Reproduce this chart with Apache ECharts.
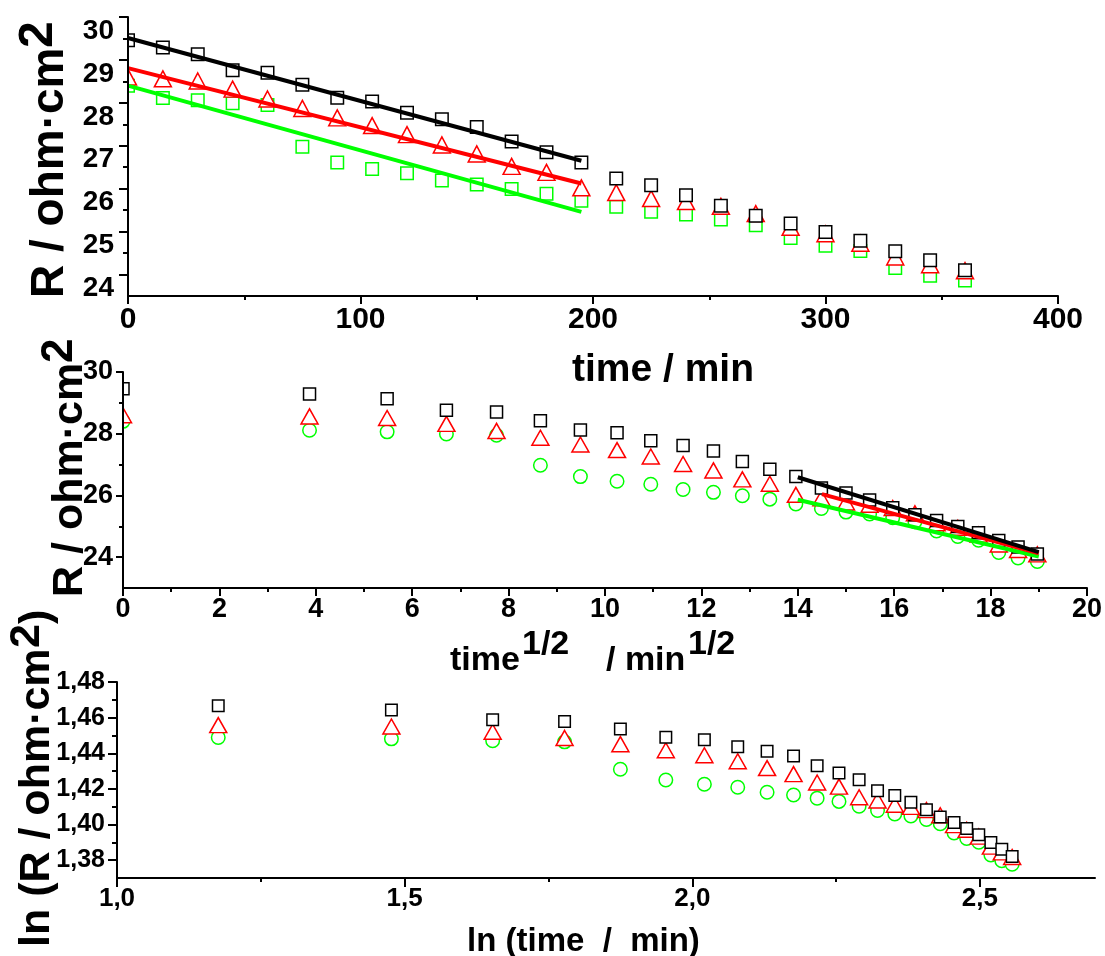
<!DOCTYPE html>
<html><head><meta charset="utf-8">
<script src="https://cdn.jsdelivr.net/npm/echarts@6/dist/echarts.min.js"></script>
<style>html,body{margin:0;padding:0;background:#fff}#c{width:1105px;height:956px}</style>
</head><body><div id="c"></div>
<script>
// ---- data ----
const time = [0,15,30,45,60,75,90,105,120,135,150,165,180,195,210,225,240,255,270,285,300,315,330,345,360];
const sqrtTime = [0,3.87,5.48,6.71,7.75,8.66,9.49,10.25,10.95,11.62,12.25,12.85,13.42,13.96,14.49,15.00,15.49,15.97,16.43,16.88,17.32,17.75,18.17,18.57,18.97];
const logTime = [1.176,1.477,1.653,1.778,1.875,1.954,2.021,2.079,2.130,2.176,2.217,2.255,2.290,2.322,2.352,2.380,2.407,2.431,2.455,2.477,2.498,2.519,2.538,2.556];

const blackR = [29.46,29.29,29.13,28.76,28.70,28.42,28.12,28.03,27.77,27.62,27.44,27.10,26.85,26.61,26.24,26.08,25.85,25.60,25.37,25.19,24.99,24.79,24.54,24.33,24.10];
const redR   = [28.60,28.56,28.51,28.32,28.09,27.87,27.65,27.47,27.26,27.02,26.81,26.52,26.38,26.02,25.91,25.77,25.70,25.59,25.42,25.10,24.95,24.73,24.41,24.23,24.09];
const greenR = [28.40,28.11,28.06,27.99,27.95,26.98,26.61,26.46,26.36,26.19,26.10,25.99,25.88,25.72,25.58,25.46,25.40,25.28,25.15,24.85,24.67,24.55,24.15,23.97,23.86];

const blackLog = [1.4667,1.4643,1.4588,1.4579,1.4536,1.4490,1.4476,1.4436,1.4412,1.4384,1.4330,1.4289,1.4251,1.4190,1.4163,1.4125,1.4083,1.4043,1.4012,1.3978,1.3943,1.3899,1.3861,1.3820];
const redLog   = [1.4558,1.4550,1.4521,1.4486,1.4451,1.4417,1.4389,1.4355,1.4317,1.4283,1.4236,1.4213,1.4153,1.4135,1.4111,1.4099,1.4081,1.4052,1.3997,1.3971,1.3932,1.3876,1.3844,1.3818];
const greenLog = [1.4489,1.4481,1.4470,1.4464,1.4310,1.4250,1.4226,1.4209,1.4181,1.4166,1.4148,1.4130,1.4103,1.4079,1.4059,1.4048,1.4028,1.4005,1.3953,1.3922,1.3901,1.3829,1.3797,1.3777];

// linear fits drawn in the picture (end points)
const fitTopBlack = [[0,29.51],[195,26.65]];
const fitTopRed   = [[0,28.81],[195,26.12]];
const fitTopGreen = [[0,28.40],[195,25.46]];
const fitMidBlack = [[14,26.59],[19,24.16]];
const fitMidRed   = [[14.5,26.04],[19,24.12]];
const fitMidGreen = [[14,25.86],[19,24.02]];

// tick values
const topYMajor = [24,25,26,27,28,29,30];
const topYMinor = [24.5,25.5,26.5,27.5,28.5,29.5];
const midYMajor = [24,26,28,30];
const midYMinor = [25,27,29];
const botXMajor = [1.0,1.5,2.0,2.5];
const botXMinor = [1.25,1.75,2.25];
const botYMajor = [1.38,1.40,1.42,1.44,1.46,1.48];
const botYMinor = [1.39,1.41,1.43,1.45,1.47];

// ---- chart ----
const FONT = '"Liberation Sans", Arial, Helvetica, sans-serif';
const BLACK = '#000000', RED = '#ff0000', GREEN = '#00ff00';
const pairs = (xs, ys) => xs.map((x, i) => [x, ys[i]]);
const lineSt = {color:'#000', width:2};
const comma = d => v => v.toFixed(d).replace('.', ',');

function mainAxis(o) {
  return Object.assign({
    type:'value', z:5, splitLine:{show:false}, minorSplitLine:{show:false},
    axisLine:{show:true, onZero:false, lineStyle:lineSt},
  }, o);
}
function minorAxis(o) {
  return Object.assign({
    type:'value', z:5, splitLine:{show:false}, axisLine:{show:false}, axisLabel:{show:false},
  }, o);
}
function lab(size, extra) {
  return Object.assign({fontSize:size, fontWeight:'bold', fontFamily:FONT, color:'#000'}, extra||{});
}

const xAxis = [
  mainAxis({gridIndex:0, position:'bottom', min:0, max:400, interval:100,
    axisTick:{show:true, length:8, lineStyle:lineSt},
    minorTick:{show:true, splitNumber:2, length:4, lineStyle:lineSt},
    axisLabel:lab(30, {margin:9})}),
  mainAxis({gridIndex:1, position:'bottom', min:0, max:20, interval:2,
    axisTick:{show:true, length:8, lineStyle:lineSt},
    minorTick:{show:true, splitNumber:2, length:4, lineStyle:lineSt},
    axisLabel:lab(27, {margin:8})}),
  mainAxis({gridIndex:2, position:'bottom', min:1.0, max:2.7,
    axisTick:{show:true, length:9, lineStyle:lineSt, customValues:botXMajor},
    axisLabel:lab(26, {margin:8, customValues:botXMajor, formatter:comma(1)})}),
  minorAxis({gridIndex:2, position:'bottom', min:1.0, max:2.7,
    axisTick:{show:true, length:4, lineStyle:lineSt, customValues:botXMinor}})
];

const yAxis = [
  mainAxis({gridIndex:0, position:'left', min:23.5, max:30,
    axisTick:{show:true, length:9, lineStyle:lineSt, customValues:topYMajor},
    axisLabel:lab(28, {margin:14, verticalAlign:'top', customValues:topYMajor, formatter:v=>String(Math.round(v))})}),
  minorAxis({gridIndex:0, position:'left', min:23.5, max:30,
    axisTick:{show:true, length:5, lineStyle:lineSt, customValues:topYMinor}}),
  mainAxis({gridIndex:1, position:'left', min:23, max:30,
    axisTick:{show:true, length:7, lineStyle:lineSt, customValues:midYMajor},
    axisLabel:lab(27, {margin:10, customValues:midYMajor, formatter:v=>String(Math.round(v))})}),
  minorAxis({gridIndex:1, position:'left', min:23, max:30,
    axisTick:{show:true, length:4, lineStyle:lineSt, customValues:midYMinor}}),
  mainAxis({gridIndex:2, position:'left', min:1.37, max:1.48,
    axisTick:{show:true, length:9, lineStyle:lineSt, customValues:botYMajor},
    axisLabel:lab(25, {margin:12, customValues:botYMajor, formatter:comma(2)})}),
  minorAxis({gridIndex:2, position:'left', min:1.37, max:1.48,
    axisTick:{show:true, length:5, lineStyle:lineSt, customValues:botYMinor}})
];

function scat(xi, yi, data, symbol, size, color) {
  return {type:'scatter', xAxisIndex:xi, yAxisIndex:yi, data, symbol, symbolSize:size, clip:false,
    itemStyle:{color:'#ffffff', borderColor:color, borderWidth:1.5, opacity:1},
    emphasis:{disabled:true}, animation:false};
}
function fit(xi, yi, data, color) {
  return {type:'line', xAxisIndex:xi, yAxisIndex:yi, data, showSymbol:false, symbol:'none',
    lineStyle:{color, width:4}, z:4, animation:false, clip:false};
}

const series = [
  scat(0,0, pairs(time, greenR), 'rect', 12.5, GREEN),
  scat(0,0, pairs(time, redR), 'triangle', [17,16], RED),
  scat(0,0, pairs(time, blackR), 'rect', 12.5, BLACK),
  fit(0,0, fitTopGreen, GREEN), fit(0,0, fitTopRed, RED), fit(0,0, fitTopBlack, BLACK),

  scat(1,2, pairs(sqrtTime, greenR), 'circle', 13.5, GREEN),
  scat(1,2, pairs(sqrtTime, redR), 'triangle', [17,15], RED),
  scat(1,2, pairs(sqrtTime, blackR), 'rect', 12, BLACK),
  fit(1,2, fitMidGreen, GREEN), fit(1,2, fitMidRed, RED), fit(1,2, fitMidBlack, BLACK),

  scat(2,4, pairs(logTime, greenLog), 'circle', 13.5, GREEN),
  scat(2,4, pairs(logTime, redLog), 'triangle', [17,15], RED),
  scat(2,4, pairs(logTime, blackLog), 'rect', 11.5, BLACK)
];

function txt(x, y, text, size, rot, align) {
  const font = 'bold ' + size + 'px ' + FONT;
  return {type:'text', x, y, rotation:rot||0, z:20,
    style:{text, font, fill:'#000', align:align||'left', verticalAlign:'middle',
           textAlign:align||'left', textVerticalAlign:'middle'}};
}
const R90 = Math.PI/2;
const graphic = [
  {type:'rect', z:3, shape:{x:0, y:0, width:127, height:300}, style:{fill:'#fff'}},
  {type:'rect', z:3, shape:{x:0, y:355, width:122, height:235}, style:{fill:'#fff'}},
  // y titles
  txt(50, 298, 'R / ohm·cm', 46, R90), txt(39, 48, '2', 48, R90),
  txt(70, 597, 'R / ohm·cm', 43, R90), txt(60, 363, '2', 44, R90),
  txt(37, 947, 'ln (R / ohm·cm', 43, R90), txt(27, 648, '2', 43, R90), txt(37, 624, ')', 43, R90),
  // x titles
  txt(572, 370, 'time / min', 39),
  txt(450, 661, 'time', 34), txt(522, 645, '1/2', 34),
  txt(606, 661, '/ min', 34), txt(688, 645, '1/2', 34),
  txt(467, 942, 'ln (time  /  min)', 33)
];

const chart = echarts.init(document.getElementById('c'), null, {renderer:'canvas'});
chart.setOption({
  animation:false,
  backgroundColor:'#ffffff',
  grid:[
    {left:128, top:17, width:930, height:279, containLabel:false},
    {left:123, top:372, width:966, height:216, containLabel:false},
    {left:117, top:682, width:978, height:196, containLabel:false}
  ],
  xAxis, yAxis, series, graphic
});
</script></body></html>
